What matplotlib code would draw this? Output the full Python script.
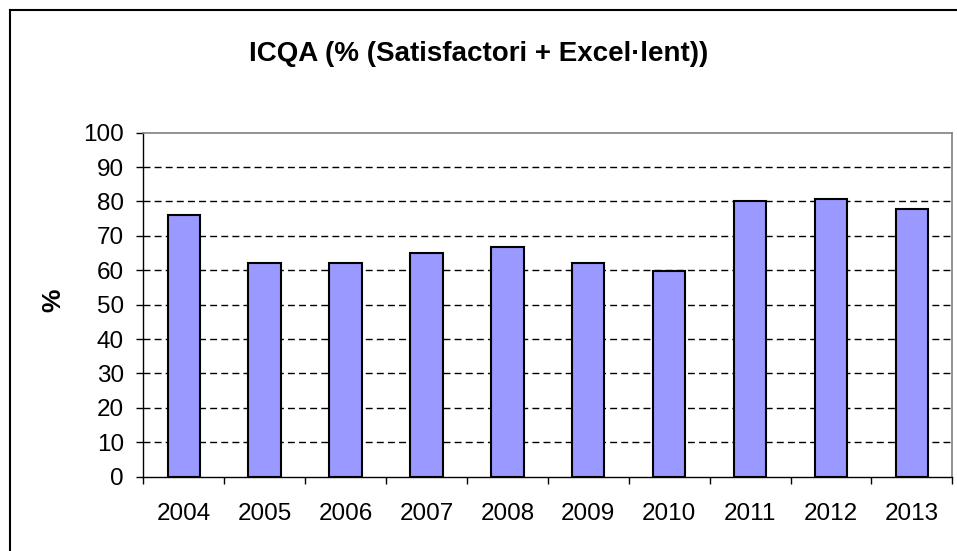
import matplotlib
matplotlib.use("Agg")
import matplotlib.pyplot as plt
from matplotlib.lines import Line2D

years = ["2004", "2005", "2006", "2007", "2008", "2009", "2010", "2011", "2012", "2013"]
values = [76.2, 62.2, 62.2, 65.1, 66.9, 62.2, 59.9, 80.2, 80.8, 77.9]
yticks = [0, 10, 20, 30, 40, 50, 60, 70, 80, 90, 100]
title = "ICQA (% (Satisfactori + Excel·lent))"

plt.rcParams['font.family'] = ['Liberation Sans', 'DejaVu Sans']

W, H = 957, 551
fig = plt.figure(figsize=(W / 100, H / 100), dpi=100)
ax = fig.add_axes([143.3 / W, (H - 476.7) / H, 809 / W, 344 / H])

x = list(range(len(years)))
ax.bar(x, values, width=0.4, color="#9999FF", edgecolor="black", linewidth=1.5, zorder=3)

ax.set_xlim(-0.5, len(years) - 0.5)
ax.set_ylim(0, 100)
ax.set_yticks(yticks)
ax.set_yticklabels([str(t) for t in yticks], fontsize=17.5)
ax.tick_params(axis='y', direction='out', length=5, width=1, pad=9, color='black')

ax.set_xticks(x)
ax.set_xticklabels(years, fontsize=17.5)
ax.tick_params(axis='x', which='major', length=0, pad=19)
ax.set_xticks([i + 0.5 for i in range(-1, len(years))], minor=True)
ax.tick_params(axis='x', which='minor', direction='out', length=5, width=1, color='black')

for t in yticks[1:-1]:
    ax.axhline(t, color='black', linewidth=1, linestyle=(0, (5, 3)), zorder=1)

for s in ['top', 'right']:
    ax.spines[s].set_color('#808080')
    ax.spines[s].set_linewidth(1.2)
for s in ['left', 'bottom']:
    ax.spines[s].set_color('black')
    ax.spines[s].set_linewidth(1)

fig.text(53 / W, 1 - 300 / H, '%', rotation=90, ha='center', va='center',
         fontsize=19, fontweight='bold')

fig.text(0.5, 1 - 61 / H, title, ha='center', va='baseline', fontsize=20, fontweight='bold')

# outer chart frame (left and top edges visible)
fig.add_artist(Line2D([9.5 / W, 9.5 / W], [0, 1 - 10 / H], transform=fig.transFigure, color='black', linewidth=1.5))
fig.add_artist(Line2D([9.5 / W, 1], [1 - 10 / H, 1 - 10 / H], transform=fig.transFigure, color='black', linewidth=1.5))

fig.savefig("out.png", dpi=100)
